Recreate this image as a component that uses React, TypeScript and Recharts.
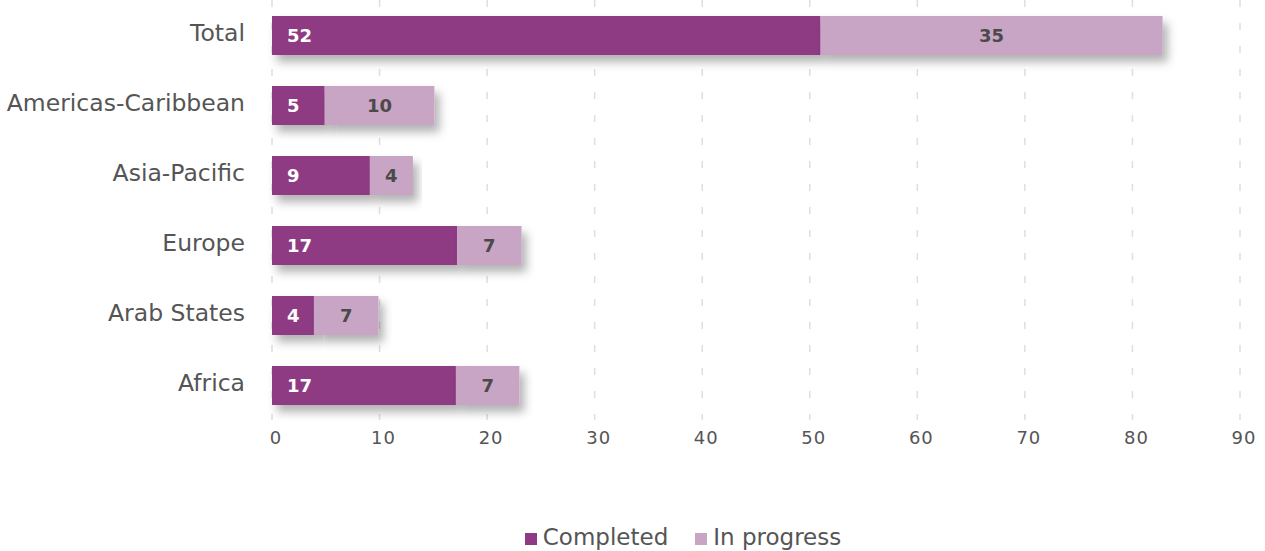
import React from "react";
import {
  BarChart,
  Bar,
  XAxis,
  YAxis,
  CartesianGrid,
  Legend,
  LabelList,
} from "recharts";

// top-to-bottom order as shown
const regions = ["Total", "Americas-Caribbean", "Asia-Pacific", "Europe", "Arab States", "Africa"];
// bar lengths as drawn in the picture
const completed = [51, 4.9, 9.1, 17.2, 3.9, 17.1];
const inProgress = [31.8, 10.2, 4, 6, 6, 5.9];
// numbers printed on the bars
const completedLabels = ["52", "5", "9", "17", "4", "17"];
const inProgressLabels = ["35", "10", "4", "7", "7", "7"];
const xTicks = [0, 10, 20, 30, 40, 50, 60, 70, 80, 90];

const COMPLETED = "#8e3a84";
const IN_PROGRESS = "#c8a5c5";
const FONT = "'DejaVu Sans', Verdana, sans-serif";

const data = regions.map((name, i) => ({
  name,
  completed: completed[i],
  inProgress: inProgress[i],
  completedLabel: completedLabels[i],
  inProgressLabel: inProgressLabels[i],
}));

function ShadowRect(props: any) {
  const { x, y, width, height, fill } = props;
  if (!width || width <= 0) return null;
  return <rect x={x} y={y} width={width} height={height} fill={fill} filter="url(#barShadow)" />;
}

function YTick({ x, y, payload }: any) {
  return (
    <text x={x - 19} y={y - 2} textAnchor="end" dominantBaseline="central" fill="#555" fontSize={23.5} fontFamily={FONT}>
      {payload.value}
    </text>
  );
}

function XTick({ x, y, payload }: any) {
  return (
    <text x={x + 4} y={y + 24} textAnchor="middle" fill="#555" fontSize={18} fontFamily={FONT} letterSpacing={1}>
      {payload.value}
    </text>
  );
}

function LegendContent() {
  const items = [
    { label: "Completed", color: COMPLETED },
    { label: "In progress", color: IN_PROGRESS },
  ];
  return (
    <div style={{ display: "flex", justifyContent: "center", gap: 27, height: 24, alignItems: "center", fontFamily: FONT, paddingLeft: 126 }}>
      {items.map((it) => (
        <div key={it.label} style={{ display: "flex", alignItems: "center", gap: 6 }}>
          <span style={{ width: 12, height: 12, background: it.color, display: "inline-block", marginTop: 4 }} />
          <span style={{ fontSize: 23, color: "#555" }}>{it.label}</span>
        </div>
      ))}
    </div>
  );
}

export default function App() {
  return (
    <div style={{ position: "absolute", left: 0, top: 0, background: "#fff" }}>
      <BarChart
        width={1265}
        height={551}
        data={data}
        layout="vertical"
        margin={{ top: 0, right: 25, bottom: 2, left: 0 }}
        barSize={39}
      >
        <defs>
          <filter id="barShadow" x="-10%" y="-30%" width="130%" height="190%">
            <feDropShadow dx={5} dy={7} stdDeviation={5} floodColor="#000" floodOpacity={0.3} />
          </filter>
        </defs>
        <CartesianGrid horizontal={false} stroke="#dedede" strokeWidth={1.5} strokeDasharray="7 16" />
        <XAxis
          type="number"
          domain={[0, 90]}
          ticks={xTicks}
          axisLine={false}
          tickLine={false}
          tickSize={0}
          tickMargin={0}
          height={105}
          tick={<XTick />}
        />
        <YAxis
          type="category"
          dataKey="name"
          width={272}
          axisLine={false}
          tickLine={false}
          tick={<YTick />}
        />
        <Legend verticalAlign="bottom" content={<LegendContent />} />
        <Bar dataKey="completed" name="Completed" stackId="a" fill={COMPLETED} shape={<ShadowRect />} isAnimationActive={false}>
          <LabelList
            dataKey="completedLabel"
            position="insideLeft"
            offset={15}
            fill="#fff"
            fontSize={18}
            fontWeight="bold"
            fontFamily={FONT}
          />
        </Bar>
        <Bar dataKey="inProgress" name="In progress" stackId="a" fill={IN_PROGRESS} shape={<ShadowRect />} isAnimationActive={false}>
          <LabelList
            dataKey="inProgressLabel"
            position="center"
            fill="#4a4a4a"
            fontSize={18}
            fontWeight="bold"
            fontFamily={FONT}
          />
        </Bar>
      </BarChart>
    </div>
  );
}
